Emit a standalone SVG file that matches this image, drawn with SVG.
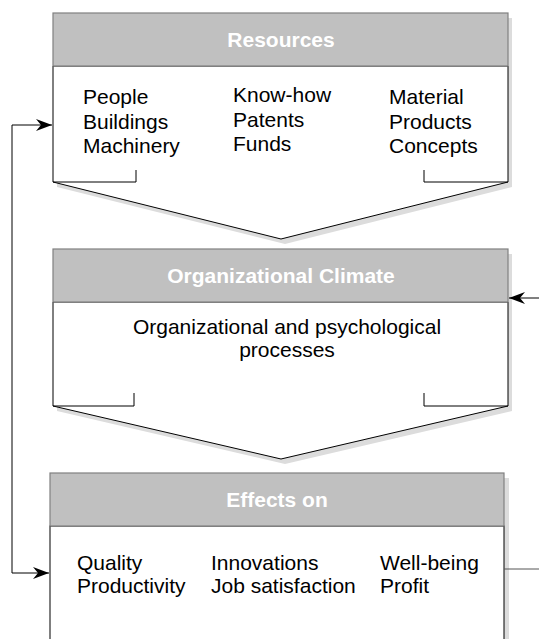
<svg xmlns="http://www.w3.org/2000/svg" width="539" height="639" viewBox="0 0 539 639">
<style>
.shadow{fill:#dcdcdc;stroke:none}
.head{fill:#c0c0c0;stroke:#808080;stroke-width:1.2}
.body{fill:#ffffff;stroke:#000000;stroke-width:1}
.br{fill:none;stroke:#000000;stroke-width:1}
.ht{font-family:"Liberation Sans",Arial,sans-serif;font-weight:bold;font-size:21px;fill:#ffffff;text-anchor:middle}
.t{font-family:"Liberation Sans",Arial,sans-serif;font-size:21px;fill:#000000}
.tc{font-family:"Liberation Sans",Arial,sans-serif;font-size:21px;fill:#000000;text-anchor:middle}
.conn{fill:none;stroke:#000000;stroke-width:1}
.connG{fill:none;stroke:#555555;stroke-width:1}
</style>
<defs>
<marker id="ah" viewBox="0 0 16 12" refX="16" refY="6" markerWidth="16" markerHeight="12" markerUnits="userSpaceOnUse" orient="auto">
<path d="M0,0 L16,6 L0,12 L5,6 z" fill="#000000"/>
</marker>
</defs>
<g id="resources">
<polygon class="shadow" points="57,18 512,18 512,187 285,244 57,187"/>
<path class="body" d="M53,66 V182 L281,239 L508,182 V66 Z"/>
<rect class="head" x="53" y="13" width="455" height="53"/>
<path class="br" d="M53,182 H136 V170 M508,182 H424 V170"/>
<text class="ht" x="281" y="47">Resources</text>
<text class="t" x="83" y="104">People</text>
<text class="t" x="83" y="129">Buildings</text>
<text class="t" x="83" y="153">Machinery</text>
<text class="t" x="233" y="102">Know-how</text>
<text class="t" x="233" y="127">Patents</text>
<text class="t" x="233" y="151">Funds</text>
<text class="t" x="389" y="104">Material</text>
<text class="t" x="389" y="129">Products</text>
<text class="t" x="389" y="153">Concepts</text>
</g>
<g id="climate">
<polygon class="shadow" points="57,254 512,254 512,411 285,464 57,411"/>
<path class="body" d="M53,302 V406 L281,459 L508,406 V302 Z"/>
<rect class="head" x="53" y="249" width="455" height="53"/>
<path class="br" d="M53,406 H134 V393 M508,406 H424 V393"/>
<text class="ht" x="281" y="283">Organizational Climate</text>
<text class="tc" x="287" y="334">Organizational and psychological</text>
<text class="tc" x="287" y="357">processes</text>
</g>
<g id="effects">
<polygon class="shadow" points="54,478 509,478 509,645 54,645"/>
<rect class="body" x="50" y="526" width="454" height="120"/>
<rect class="head" x="50" y="473" width="454" height="53"/>
<text class="ht" x="277" y="507">Effects on</text>
<text class="t" x="77" y="570">Quality</text>
<text class="t" x="77" y="593">Productivity</text>
<text class="t" x="211" y="570">Innovations</text>
<text class="t" x="211" y="593">Job satisfaction</text>
<text class="t" x="380" y="570">Well-being</text>
<text class="t" x="380" y="593">Profit</text>
</g>
<g id="connectors">
<path class="conn" d="M12,573 V125 H52" marker-end="url(#ah)"/>
<path class="conn" d="M12,573 H49" marker-end="url(#ah)"/>
<path class="conn" d="M539,298 H509" marker-end="url(#ah)"/>
<path class="connG" d="M504,569 H539"/>
</g>
</svg>
